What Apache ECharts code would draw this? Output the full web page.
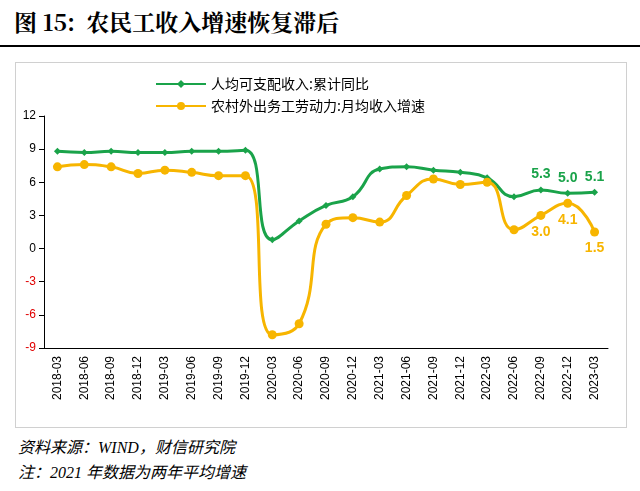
<!DOCTYPE html>
<html><head><meta charset="utf-8">
<script src="https://cdn.jsdelivr.net/npm/echarts@6/dist/echarts.min.js"></script>
<style>
body{margin:0;background:#fff;font-family:"Noto Sans CJK SC";}
#title{position:absolute;left:14px;top:5px;font-size:23px;font-family:"Noto Serif CJK SC","Noto Sans CJK SC";font-weight:bold;}
#rule{position:absolute;left:0;top:45px;width:640px;height:2px;background:#000;}
#box{position:absolute;left:15px;top:62px;width:610px;height:364px;border:1px solid #d0d0d0;}
#main{position:absolute;left:0;top:62px;width:640px;height:366px;}
.note{position:absolute;left:18px;font-size:16px;font-style:italic;font-family:"Liberation Serif","Noto Sans CJK SC";}
</style></head><body>
<div id="title">图 15:&nbsp; 农民工收入增速恢复滞后</div>
<div id="rule"></div>
<div id="box"></div>
<div id="main"></div>
<div class="note" style="top:434px">资料来源：WIND，财信研究院</div>
<div class="note" style="top:459px">注：2021 年数据为两年平均增速</div>
<script>
var categories = ['2018-03','2018-06','2018-09','2018-12','2019-03','2019-06','2019-09','2019-12','2020-03','2020-06','2020-09','2020-12','2021-03','2021-06','2021-09','2021-12','2022-03','2022-06','2022-09','2022-12','2023-03'];
var disposable = [8.8,8.7,8.8,8.7,8.7,8.8,8.8,8.9,0.8,2.5,3.9,4.7,7.2,7.4,7.1,6.9,6.4,4.7,5.3,5.0,5.1];
var migrant = [7.4,7.6,7.4,6.8,7.1,6.9,6.6,6.6,-7.8,-6.8,2.2,2.8,2.4,4.8,6.3,5.8,6.0,1.7,3.0,4.1,1.5];
var lastN = 3;
var chart = echarts.init(document.getElementById('main'));
function lbl(color, pos){
  return {show:true, position:pos, color:color, fontWeight:'bold', fontSize:14,
    formatter:function(p){return p.dataIndex >= categories.length-lastN ? p.value.toFixed(1) : '';}};
}
chart.setOption({
  animation:false,
  grid:{left:44,right:32,top:54,bottom:80},
  legend:{left:150,top:10,orient:'vertical',itemGap:8,itemWidth:50,itemHeight:10,
    textStyle:{fontSize:14,color:'#000',fontFamily:'Noto Sans CJK SC'}},
  xAxis:{type:'category',data:categories,boundaryGap:true,
    axisLine:{onZero:false,lineStyle:{color:'#000'}},axisTick:{show:false},
    axisLabel:{rotate:90,fontSize:12,color:'#000',interval:0}},
  yAxis:{type:'value',min:-9,max:12,interval:3,splitLine:{show:false},
    axisLine:{show:true,lineStyle:{color:'#000'}},axisTick:{show:true},
    axisLabel:{fontSize:12,color:function(v){return v<0?'#e00000':'#000';}}},
  series:[
    {name:'人均可支配收入:累计同比',type:'line',smooth:true,data:disposable,
      color:'#1aa34a',lineStyle:{width:3},symbol:'diamond',symbolSize:7,
      label:lbl('#1aa34a','top')},
    {name:'农村外出务工劳动力:月均收入增速',type:'line',smooth:true,data:migrant,
      color:'#f7b500',lineStyle:{width:3},symbol:'circle',symbolSize:9,
      label:lbl('#f7b500','bottom')}
  ]
});
</script></body></html>
